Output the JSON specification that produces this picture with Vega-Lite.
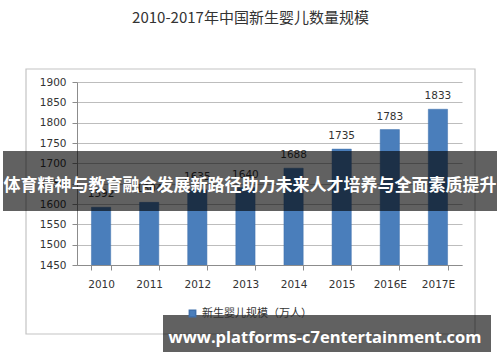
{
  "$schema": "https://vega.github.io/schema/vega-lite/v6.json",
  "width": 385,
  "height": 183,
  "autosize": {"type": "none"},
  "padding": {"left": 77, "top": 82, "right": 38, "bottom": 97},
  "background": "#ffffff",
  "config": {"view": {"stroke": null}},
  "title": {
    "text": "2010-2017年中国新生婴儿数量规模",
    "font": "Noto Sans CJK SC",
    "fontSize": 15,
    "fontWeight": "normal",
    "color": "#333333",
    "anchor": "middle",
    "dx": -19,
    "offset": 42
  },
  "data": {
    "values": [
      {"year": "2010", "births": 1592, "series": "新生婴儿规模（万人）"},
      {"year": "2011", "births": 1604, "series": "新生婴儿规模（万人）"},
      {"year": "2012", "births": 1635, "series": "新生婴儿规模（万人）"},
      {"year": "2013", "births": 1640, "series": "新生婴儿规模（万人）"},
      {"year": "2014", "births": 1688, "series": "新生婴儿规模（万人）"},
      {"year": "2015", "births": 1735, "series": "新生婴儿规模（万人）"},
      {"year": "2016E", "births": 1783, "series": "新生婴儿规模（万人）"},
      {"year": "2017E", "births": 1833, "series": "新生婴儿规模（万人）"}
    ]
  },
  "layer": [
    {
      "data": {"values": [{}]},
      "mark": {"type": "rect", "fill": null, "stroke": "#c4c4c4", "strokeWidth": 1.2},
      "encoding": {
        "x": {"value": -51},
        "x2": {"value": 398},
        "y": {"value": -13},
        "y2": {"value": 252}
      }
    },
    {
      "mark": {"type": "bar", "stroke": "#3f70ac", "strokeWidth": 0.5, "clip": true},
      "encoding": {
        "x": {
          "field": "year",
          "type": "nominal",
          "sort": null,
          "scale": {"paddingInner": 0.6, "paddingOuter": 0.3},
          "axis": {
            "title": null,
            "labelAngle": 0,
            "domainColor": "#8c8c8c",
            "tickColor": "#8c8c8c",
            "tickBand": "extent",
            "tickSize": 5,
            "labelPadding": 9,
            "labelFont": "DejaVu Sans",
            "labelFontSize": 10.5,
            "labelColor": "#333333"
          }
        },
        "y": {
          "field": "births",
          "type": "quantitative",
          "scale": {"domain": [1450, 1900], "nice": false, "zero": false},
          "axis": {
            "title": null,
            "values": [1450, 1500, 1550, 1600, 1650, 1700, 1750, 1800, 1850, 1900],
            "tickCount": 10,
            "format": "d",
            "labelOverlap": false,
            "domainColor": "#8c8c8c",
            "tickColor": "#8c8c8c",
            "tickSize": 5,
            "gridColor": "#bdbdbd",
            "labelPadding": 6,
            "labelFont": "DejaVu Sans",
            "labelFontSize": 10.5,
            "labelColor": "#333333"
          }
        },
        "color": {
          "field": "series",
          "type": "nominal",
          "scale": {"range": ["#4a7ebb"]},
          "legend": {
            "title": null,
            "orient": "none",
            "legendX": 110,
            "legendY": 226,
            "symbolType": "square",
            "symbolSize": 40,
            "labelFont": "Noto Sans CJK SC",
            "labelFontSize": 11,
            "labelColor": "#333333"
          }
        }
      }
    },
    {
      "mark": {"type": "text", "dy": -8, "font": "DejaVu Sans", "fontSize": 10.5, "color": "#333333", "baseline": "bottom"},
      "encoding": {
        "x": {
          "field": "year",
          "type": "nominal",
          "sort": null,
          "axis": {
            "title": null,
            "labelAngle": 0,
            "domainColor": "#8c8c8c",
            "tickColor": "#8c8c8c",
            "tickBand": "extent",
            "tickSize": 5,
            "labelPadding": 9,
            "labelFont": "DejaVu Sans",
            "labelFontSize": 10.5,
            "labelColor": "#333333"
          }
        },
        "y": {
          "field": "births",
          "type": "quantitative",
          "axis": {
            "title": null,
            "values": [1450, 1500, 1550, 1600, 1650, 1700, 1750, 1800, 1850, 1900],
            "tickCount": 10,
            "format": "d",
            "labelOverlap": false,
            "domainColor": "#8c8c8c",
            "tickColor": "#8c8c8c",
            "tickSize": 5,
            "gridColor": "#bdbdbd",
            "labelPadding": 6,
            "labelFont": "DejaVu Sans",
            "labelFontSize": 10.5,
            "labelColor": "#333333"
          }
        },
        "text": {"field": "births", "type": "quantitative", "format": "d"}
      }
    },
    {
      "data": {"values": [{"t": "体育精神与教育融合发展新路径助力未来人才培养与全面素质提升"}]},
      "mark": {"type": "rect", "fill": "#000000", "opacity": 0.62},
      "encoding": {
        "x": {"value": -74},
        "x2": {"value": 420},
        "y": {"value": 69},
        "y2": {"value": 129}
      }
    },
    {
      "data": {"values": [{"t": "体育精神与教育融合发展新路径助力未来人才培养与全面素质提升"}]},
      "mark": {"type": "text", "font": "Noto Sans CJK SC", "fontSize": 17, "fontWeight": "bold", "color": "#ffffff", "align": "center", "baseline": "middle"},
      "encoding": {
        "x": {"value": 173},
        "y": {"value": 104},
        "text": {"field": "t"}
      }
    },
    {
      "data": {"values": [{"t": "www.platforms-c7entertainment.com"}]},
      "mark": {"type": "rect", "fill": "#000000", "opacity": 0.62},
      "encoding": {
        "x": {"value": 86},
        "x2": {"value": 414},
        "y": {"value": 233},
        "y2": {"value": 270}
      }
    },
    {
      "data": {"values": [{"t": "www.platforms-c7entertainment.com"}]},
      "mark": {"type": "text", "font": "Open Sans", "fontSize": 16.5, "fontWeight": "bold", "color": "#ffffff", "align": "center", "baseline": "middle"},
      "encoding": {
        "x": {"value": 248},
        "y": {"value": 256},
        "text": {"field": "t"}
      }
    }
  ]
}
